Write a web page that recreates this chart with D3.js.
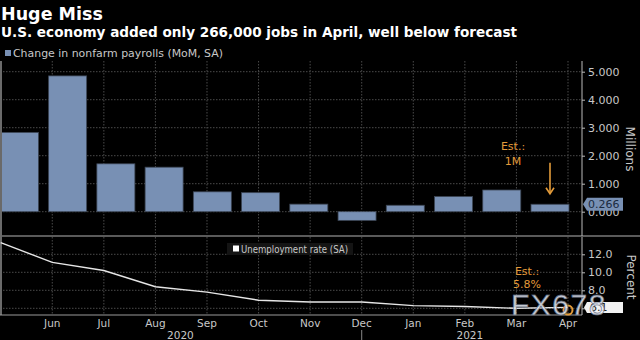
<!DOCTYPE html>
<html><head><meta charset="utf-8">
<script src="https://cdn.jsdelivr.net/npm/d3@7"></script>
<style>
html,body{margin:0;padding:0;background:#000;}
svg{display:block;font-family:"DejaVu Sans",sans-serif;}
</style></head>
<body>
<svg id="c" width="640" height="340"></svg>
<script>
const months = ["May","Jun","Jul","Aug","Sep","Oct","Nov","Dec","Jan","Feb","Mar","Apr"];
const payrolls = [2.83, 4.85, 1.71, 1.59, 0.71, 0.68, 0.27, -0.31, 0.23, 0.54, 0.775, 0.266];
const unemployment = [13.3, 11.1, 10.2, 8.4, 7.8, 6.9, 6.7, 6.7, 6.3, 6.2, 6.0, 6.1];
const payrollTicks = [0, 1, 2, 3, 4, 5];
const rateTicks = [6, 8, 10, 12];
const monthLabels = ["Jun","Jul","Aug","Sep","Oct","Nov","Dec","Jan","Feb","Mar","Apr"];
const years = [{label:"2020", m:"Aug", off:25}, {label:"2021", m:"Feb", off:5}];
const estPayroll = 1.0, estRate = 5.8;

const svg = d3.select("#c");
const W = 640, axisX = 582;
const grid = "#4a4a4a", textC = "#c8c8c8", barC = "#7890b4", orange = "#e39b3a";

// scales
const xBar = d3.scalePoint().domain(months).range([19.4, 550]);
const xDate = d3.scalePoint().domain(months).range([0.7, 568]);
const yTop = d3.scaleLinear().domain([0, 5]).range([211.7, 71.7]);
const yBot = d3.scaleLinear().domain([6, 12]).range([308.3, 254.3]);
const topY0 = 61, topY1 = 234, botY0 = 237, botY1 = 315;

// titles
svg.append("text").attr("x", 1).attr("y", 20).attr("fill", "#fff").attr("font-size", 17.5).attr("font-weight", "bold").text("Huge Miss");
svg.append("text").attr("x", 1).attr("y", 37).attr("fill", "#fff").attr("font-size", 14.4).attr("font-weight", "bold")
  .attr("textLength", 516).attr("lengthAdjust", "spacingAndGlyphs")
  .text("U.S. economy added only 266,000 jobs in April, well below forecast");

// top legend
svg.append("rect").attr("x", 5).attr("y", 50).attr("width", 6).attr("height", 6).attr("fill", barC);
svg.append("text").attr("x", 13).attr("y", 57).attr("fill", textC).attr("font-size", 10)
  .attr("textLength", 210).attr("lengthAdjust", "spacingAndGlyphs").text("Change in nonfarm payrolls (MoM, SA)");

// grids top
const gTop = svg.append("g");
gTop.selectAll("line.h").data(payrollTicks).join("line")
  .attr("x1", 0).attr("x2", axisX).attr("y1", d => yTop(d)).attr("y2", d => yTop(d))
  .attr("stroke", grid).attr("stroke-dasharray", "1.5,1.5");
gTop.selectAll("line.v").data(months.slice(1)).join("line")
  .attr("x1", d => xDate(d)).attr("x2", d => xDate(d)).attr("y1", topY0).attr("y2", topY1)
  .attr("stroke", grid).attr("stroke-dasharray", "1.5,1.5");

// bars
svg.append("g").selectAll("rect").data(payrolls).join("rect")
  .attr("x", (d, i) => xBar(months[i]) - 19)
  .attr("width", 38)
  .attr("y", d => yTop(Math.max(0, d)))
  .attr("height", d => Math.abs(yTop(d) - yTop(0)))
  .attr("fill", barC).attr("stroke", "#3d4756").attr("stroke-width", 0.8);

// grids bottom
const gBot = svg.append("g");
gBot.selectAll("line.h").data(rateTicks).join("line")
  .attr("x1", 0).attr("x2", axisX).attr("y1", d => yBot(d)).attr("y2", d => yBot(d))
  .attr("stroke", grid).attr("stroke-dasharray", "1.5,1.5");
gBot.selectAll("line.v").data(months.slice(1)).join("line")
  .attr("x1", d => xDate(d)).attr("x2", d => xDate(d)).attr("y1", botY0).attr("y2", botY1)
  .attr("stroke", grid).attr("stroke-dasharray", "1.5,1.5");

// panel borders
svg.append("line").attr("x1", 0).attr("x2", W).attr("y1", 236).attr("y2", 236).attr("stroke", "#5a5a5a").attr("stroke-width", 2);
svg.append("line").attr("x1", 1).attr("x2", 1).attr("y1", topY0).attr("y2", botY1).attr("stroke", "#6a6a6a").attr("stroke-width", 2);
svg.append("line").attr("x1", 0).attr("x2", axisX).attr("y1", botY1).attr("y2", botY1).attr("stroke", "#9a9a9a").attr("stroke-width", 1);

// bottom legend
svg.append("rect").attr("x", 227).attr("y", 243).attr("width", 126).attr("height", 12).attr("fill", "#141414");
svg.append("rect").attr("x", 233).attr("y", 245.5).attr("width", 6).attr("height", 6).attr("fill", "#fff");
svg.append("text").attr("x", 241).attr("y", 252.5).attr("fill", textC).attr("font-size", 10)
  .attr("textLength", 107).attr("lengthAdjust", "spacingAndGlyphs").text("Unemployment rate (SA)");

// line
const line = d3.line().x((d, i) => xDate(months[i])).y(d => yBot(d));
svg.append("path").datum(unemployment).attr("d", line).attr("fill", "none").attr("stroke", "#e6e6e6").attr("stroke-width", 1.4);

// right axes
const axTop = d3.axisRight(yTop).tickValues(payrollTicks).tickFormat(d3.format(".3f")).tickSize(3).tickPadding(3);
const gAxT = svg.append("g").attr("transform", `translate(${axisX},0)`).call(axTop);
gAxT.select(".domain").remove();
svg.append("line").attr("x1", axisX).attr("x2", axisX).attr("y1", topY0).attr("y2", topY1 + 2).attr("stroke", "#bbb");
const axBot = d3.axisRight(yBot).tickValues(rateTicks).tickFormat(d3.format(".1f")).tickSize(3).tickPadding(3);
const gAxB = svg.append("g").attr("transform", `translate(${axisX},0)`).call(axBot);
gAxB.select(".domain").remove();
svg.append("line").attr("x1", axisX).attr("x2", axisX).attr("y1", botY0).attr("y2", botY1).attr("stroke", "#bbb");
[gAxT, gAxB].forEach(g => {
  g.selectAll("text").attr("fill", textC).attr("font-size", 11).attr("font-family", "DejaVu Sans");
  g.selectAll("line").attr("stroke", "#bbb");
});

svg.append("text").attr("transform", "translate(626,149) rotate(90)").attr("text-anchor", "middle")
  .attr("fill", textC).attr("font-size", 12).text("Millions");
svg.append("text").attr("transform", "translate(627,277) rotate(90)").attr("text-anchor", "middle")
  .attr("fill", textC).attr("font-size", 12).text("Percent");

// value tags
const lastP = payrolls[payrolls.length - 1], lastR = unemployment[unemployment.length - 1];
const tagY1 = yTop(lastP);
svg.append("path").attr("d", `M583,${tagY1} L587,${tagY1-6.5} L623,${tagY1-6.5} L623,${tagY1+6.5} L587,${tagY1+6.5} Z`).attr("fill", barC);
svg.append("text").attr("x", 588).attr("y", tagY1 + 4).attr("fill", "#1b2a40").attr("font-size", 11).text(d3.format(".3f")(lastP));
const tagY2 = yBot(lastR);
svg.append("path").attr("d", `M584,${tagY2} L587,${tagY2-5.5} L623,${tagY2-5.5} L623,${tagY2+5.5} L587,${tagY2+5.5} Z`).attr("fill", "#f2f2f2");
svg.append("text").attr("x", 590).attr("y", tagY2 + 4).attr("fill", "#222").attr("font-size", 11).text(d3.format(".1f")(lastR));

// x axis labels
svg.append("g").selectAll("text").data(monthLabels).join("text")
  .attr("x", d => xDate(d)).attr("y", 327).attr("text-anchor", "middle")
  .attr("fill", textC).attr("font-size", 10.5).text(d => d);
svg.append("g").selectAll("text").data(years).join("text")
  .attr("x", d => xDate(d.m) + d.off).attr("y", 339).attr("text-anchor", "middle")
  .attr("fill", textC).attr("font-size", 10.5).text(d => d.label);
svg.append("line").attr("x1", xDate("Dec")).attr("x2", xDate("Dec")).attr("y1", 330).attr("y2", 340).attr("stroke", "#888");

// estimate annotations
const xEst = xBar("Apr");
svg.append("text").attr("x", 513).attr("y", 150).attr("text-anchor", "middle").attr("fill", orange).attr("font-size", 11).text("Est.:");
svg.append("text").attr("x", 513).attr("y", 165).attr("text-anchor", "middle").attr("fill", orange).attr("font-size", 11).text("1M");
svg.append("line").attr("x1", xEst).attr("x2", xEst).attr("y1", yTop(estPayroll) - 21).attr("y2", yTop(estPayroll) + 10)
  .attr("stroke", orange).attr("stroke-width", 1.6);
svg.append("path").attr("d", `M${xEst-4},${yTop(estPayroll)+4} L${xEst},${yTop(estPayroll)+10} L${xEst+4},${yTop(estPayroll)+4}`)
  .attr("fill", "none").attr("stroke", orange).attr("stroke-width", 1.6);
svg.append("text").attr("x", 527).attr("y", 275).attr("text-anchor", "middle").attr("fill", orange).attr("font-size", 11).text("Est.:");
svg.append("text").attr("x", 527).attr("y", 288).attr("text-anchor", "middle").attr("fill", orange).attr("font-size", 11).text("5.8%");
svg.append("circle").attr("cx", xDate("Apr")).attr("cy", yBot(estRate)).attr("r", 4.5)
  .attr("fill", "none").attr("stroke", orange).attr("stroke-width", 2);

// watermark
svg.append("text").attr("x", 511).attr("y", 315).attr("fill", "rgba(235,240,250,0.85)").attr("stroke", "rgba(90,100,120,0.8)")
  .attr("stroke-width", 0.8).attr("font-size", 30).attr("letter-spacing", 1.5).attr("font-family", "Liberation Sans").text("FX678");
</script>
</body></html>
